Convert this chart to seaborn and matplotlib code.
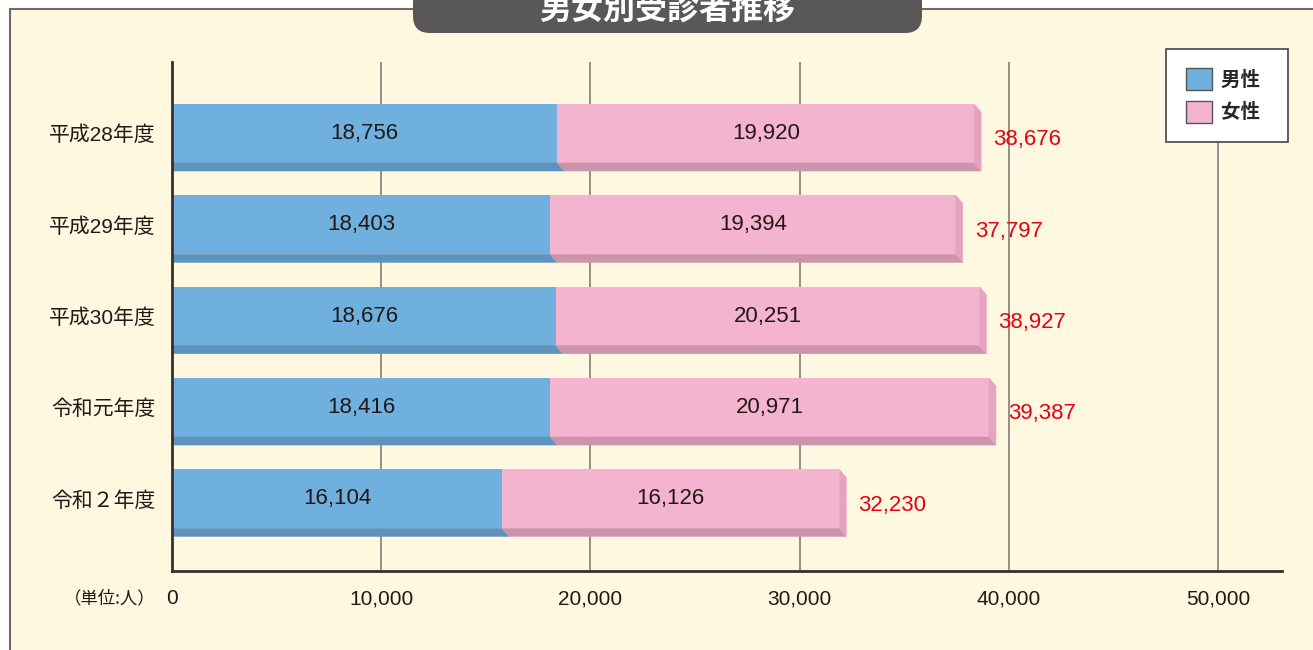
import numpy as np
import pandas as pd
import seaborn as sns
import matplotlib.pyplot as plt
from matplotlib.patches import Polygon, Rectangle, FancyBboxPatch, Patch

years = ['平成28年度', '平成29年度', '平成30年度', '令和元年度', '令和２年度']
male = [18756, 18403, 18676, 18416, 16104]
female = [19920, 19394, 20251, 20971, 16126]
total = [38676, 37797, 38927, 39387, 32230]
xticks = [0, 10000, 20000, 30000, 40000, 50000]

BLUE = '#6fb0de'
BLUE_DARK = '#5e93bd'
PINK = '#f4b3ce'
PINK_DARK = '#cc94ac'
PINK_SIDE = '#e6a3bf'
CREAM = '#fff8e1'
INK = '#231815'
RED = '#e60012'

sns.set_theme(style='white')
plt.rcParams['font.family'] = ['Liberation Sans', 'Noto Sans CJK JP', 'DejaVu Sans']

fig = plt.figure(figsize=(13.13, 6.5), dpi=100, facecolor='white')

# background panel + title pill, in pixel coordinates
bg = fig.add_axes([0, 0, 1, 1], zorder=-1)
bg.set_xlim(0, 1313)
bg.set_ylim(650, 0)
bg.axis('off')
bg.add_patch(Rectangle((10, 9), 1400, 700, facecolor=CREAM, edgecolor='#6e6a66', lw=1.5))
bg.add_patch(FancyBboxPatch((413, -30), 509, 63, boxstyle='round,pad=0,rounding_size=17',
                            facecolor='#595757', edgecolor='none'))
bg.text(667, 9, '男女別受診者推移', color='white', fontsize=23, fontweight='bold',
        ha='center', va='center', family=['Noto Sans CJK JP'])
bg.text(156, 598, '（単位:人）', color=INK, fontsize=12.5, ha='right', va='center',
        family=['Noto Sans CJK JP'])

ax = fig.add_axes([172 / 1313, 79 / 650, 1110 / 1313, 509 / 650])
ax.patch.set_alpha(0)

px_per_unit = 1110 / 53060
dx = 7 / px_per_unit
dy = 8 / 91.3
h = 0.646

df = pd.DataFrame({'year': years, 'male': male, 'female': female, 'total': total})
df['male_front'] = df['male'] - dx
df['total_front'] = df['total'] - dx

sns.barplot(data=df, x='total_front', y='year', orient='h', color=PINK, saturation=1,
            width=h, linewidth=0, ax=ax, zorder=3)
sns.barplot(data=df, x='male_front', y='year', orient='h', color=BLUE, saturation=1,
            width=h, linewidth=0, ax=ax, zorder=3)

for i, (m, f, t) in enumerate(zip(male, female, total)):
    top = i - h / 2
    bot = i + h / 2
    ax.add_patch(Polygon([(0, bot), (m - dx, bot), (m, bot + dy), (0, bot + dy)],
                         closed=True, facecolor=BLUE_DARK, edgecolor=BLUE_DARK, lw=0.4, zorder=3))
    ax.add_patch(Polygon([(m - dx, bot), (t - dx, bot), (t, bot + dy), (m, bot + dy)],
                         closed=True, facecolor=PINK_DARK, edgecolor=PINK_DARK, lw=0.4, zorder=3))
    ax.add_patch(Polygon([(t - dx, top), (t, top + dy), (t, bot + dy), (t - dx, bot)],
                         closed=True, facecolor=PINK_SIDE, edgecolor=PINK_SIDE, lw=0.4, zorder=3))
    ax.text((m - dx) / 2, i, f'{m:,}', ha='center', va='center', fontsize=16, color=INK, zorder=5)
    ax.text((m - dx + t - dx) / 2, i, f'{f:,}', ha='center', va='center', fontsize=16,
            color=INK, zorder=5)
    ax.text(t + 12 / px_per_unit, i + 0.07, f'{t:,}', ha='left', va='center', fontsize=16,
            color=RED, zorder=5)

ax.set_xlim(0, 53060)
ax.set_ylim(4.79, -0.783)
ax.set_xticks(xticks)
ax.set_xticklabels([f'{v:,}' for v in xticks])
ax.set_xlabel('')
ax.set_ylabel('')
ax.tick_params(axis='both', length=0, colors=INK)
ax.tick_params(axis='x', pad=13, labelsize=15)
ax.tick_params(axis='y', pad=12, labelsize=15)
for v in xticks[1:]:
    ax.axvline(v, color='#8c8782', lw=1.3, zorder=0.5)
for s in ['top', 'right']:
    ax.spines[s].set_visible(False)
for s in ['left', 'bottom']:
    ax.spines[s].set_color('#3a2e2a')
    ax.spines[s].set_linewidth(2)
    ax.spines[s].set_zorder(6)

handles = [Patch(facecolor=BLUE, edgecolor='#555555', lw=1),
           Patch(facecolor=PINK, edgecolor='#555555', lw=1)]
leg = fig.legend(handles, ['男性  ', '女性  '], loc='upper right',
                 bbox_to_anchor=(1288 / 1313, 1 - 49 / 650), frameon=True, fancybox=False,
                 framealpha=1, facecolor='white', edgecolor='#444444',
                 prop={'family': ['Noto Sans CJK JP'], 'weight': 'bold', 'size': 14},
                 handlelength=1.35, handleheight=1.3, handletextpad=0.45,
                 labelspacing=0.6, borderpad=1.0, borderaxespad=0)
leg.get_frame().set_linewidth(1.2)

fig.savefig('out.png', dpi=100, facecolor='white')
